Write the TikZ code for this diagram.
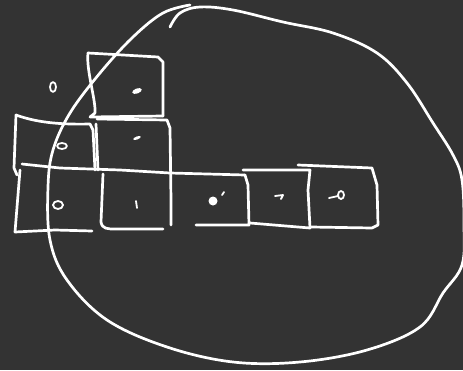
\documentclass[tikz,border=0pt]{standalone}
\begin{document}
\begin{tikzpicture}[x=1pt,y=-1pt,
  ink/.style={draw=white,line width=2.7pt,line cap=round,line join=round},
  thin ink/.style={draw=white,line width=1.8pt,line cap=round,line join=round}]
\fill[fill={rgb,255:red,51;green,51;blue,51}] (0,0) rectangle (463,370);
\useasboundingbox (0,0) rectangle (463,370);
% big blob
\draw[ink] plot[smooth,tension=0.6] coordinates {(170,27) (180,13) (200,7) (233,10) (283,22) (333,33) (377,53) (407,83) (433,123) (453,155) (462,180) (464,225) (462,265) (443,293) (420,327) (367,350) (300,362) (233,362) (167,347) (107,320) (67,280) (50,240) (48,187) (53,150) (70,113) (100,73) (133,37) (163,13) (190,5)};
% top square
\draw[ink] (88,53) -- (158,57) -- (163,62) -- (163,116);
\draw[ink] (88,53) .. controls (86,70) and (96,100) .. (95,113) -- (90,117) -- (163,116);
% middle square
\draw[ink] (97,119) -- (167,120) -- (170,128) -- (171,200) -- (171,225);
\draw[ink] (96,124) -- (98,170);
% left square
\draw[ink] (16,115) .. controls (30,120) and (50,125) .. (90,124) -- (93,130) -- (95,170);
\draw[ink] (16,115) -- (14,168) -- (17,175);
% bottom row top line
\draw[ink] (22,164) -- (60,168) -- (120,170) -- (170,173) -- (245,175);
% bottom-left square
\draw[ink] (20,170) -- (15,232) -- (55,230) -- (92,231);
% square 2
\draw[ink] (103,174) -- (101,222) .. controls (102,229) and (108,229) .. (115,229) -- (163,229);
% square 3
\draw[ink] (245,175) -- (248,185) -- (249,225) -- (196,225);
% square 4
\draw[ink] (243,170) -- (310,170) -- (308,190) -- (310,228) -- (250,223);
% square 5
\draw[ink] (298,165) -- (372,168) -- (377,185) -- (378,225) -- (372,228) -- (311,227);
% symbols
\draw[thin ink] (53,87) ellipse (3pt and 5pt);
\draw[thin ink] (62,146) ellipse (5pt and 3pt);
\draw[thin ink] (58,205) ellipse (5pt and 4pt);
\fill[white,rotate around={20:(137,91)}] (137,91) ellipse (5pt and 2.5pt);
\fill[white,rotate around={20:(137,138)}] (137,138) ellipse (4pt and 1.5pt);
\draw[thin ink] (136,201) -- (137,208);
\fill[white] (213,201) circle (4.5pt);
\draw[thin ink] (222,195) -- (224,192);
\draw[thin ink] (275,196) -- (283,195) -- (281,199);
\draw[thin ink] (341,195) ellipse (3pt and 4pt);
\draw[thin ink] (329,198) -- (338,196);
\end{tikzpicture}
\end{document}
